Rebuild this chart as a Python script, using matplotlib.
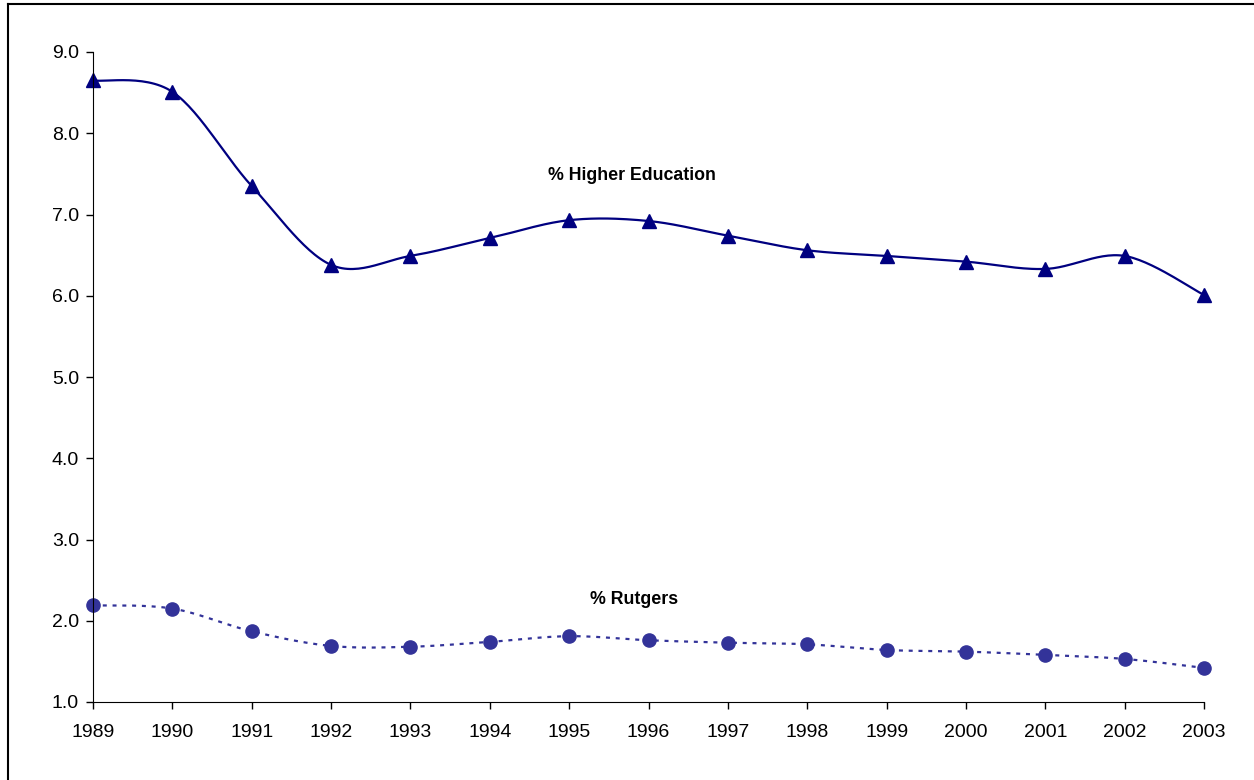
import numpy as np
import matplotlib.pyplot as plt
from matplotlib.lines import Line2D

plt.rcParams['font.family'] = ['Liberation Sans', 'DejaVu Sans']

years = list(range(1989, 2004))
higher_ed = [8.65, 8.51, 7.35, 6.38, 6.49, 6.71, 6.93, 6.92, 6.74, 6.56, 6.49, 6.42, 6.33, 6.49, 6.01]
rutgers = [2.19, 2.15, 1.87, 1.69, 1.68, 1.74, 1.81, 1.76, 1.73, 1.71, 1.64, 1.62, 1.58, 1.53, 1.42]


def smooth(x, y, n=30):
    # excel-style smoothed line (catmull-rom bezier)
    x = np.asarray(x, float)
    y = np.asarray(y, float)
    px = np.concatenate([[x[0]], x, [x[-1]]])
    py = np.concatenate([[y[0]], y, [y[-1]]])
    t = np.linspace(0, 1, n)
    xs, ys = [], []
    for i in range(1, len(px) - 2):
        x0, x1, x2, x3 = px[i - 1], px[i], px[i + 1], px[i + 2]
        y0, y1, y2, y3 = py[i - 1], py[i], py[i + 1], py[i + 2]
        cx1, cy1 = x1 + (x2 - x0) / 6, y1 + (y2 - y0) / 6
        cx2, cy2 = x2 - (x3 - x1) / 6, y2 - (y3 - y1) / 6
        bx = (1 - t) ** 3 * x1 + 3 * (1 - t) ** 2 * t * cx1 + 3 * (1 - t) * t ** 2 * cx2 + t ** 3 * x2
        by = (1 - t) ** 3 * y1 + 3 * (1 - t) ** 2 * t * cy1 + 3 * (1 - t) * t ** 2 * cy2 + t ** 3 * y2
        xs.extend(bx)
        ys.extend(by)
    return np.array(xs), np.array(ys)


fig = plt.figure(figsize=(12.54, 7.8), dpi=100)
ax = fig.add_axes([93 / 1254, 1 - 702 / 780, (1204 - 93) / 1254, (702 - 52) / 780])

sx, sy = smooth(years, higher_ed)
ax.plot(sx, sy, color='#000080', lw=1.6, clip_on=False)
ax.plot(years, higher_ed, ls='none', marker='^', ms=10, color='#000080', clip_on=False)

sx, sy = smooth(years, rutgers)
ax.plot(sx, sy, color='#333399', lw=1.6, ls=(0, (1.8, 2.6)), clip_on=False)
ax.plot(years, rutgers, ls='none', marker='o', ms=9.5, color='#333399', clip_on=False)

ax.text(1995.79, 7.475, '% Higher Education', fontsize=12.8, fontweight='bold', ha='center', va='center')
ax.text(1995.82, 2.26, '% Rutgers', fontsize=12.8, fontweight='bold', ha='center', va='center')

ax.set_xlim(1989, 2003)
ax.set_ylim(1.0, 9.0)
ax.set_xticks(years)
ax.set_yticks(np.arange(1, 10, 1.0))
ax.set_yticklabels(['%.1f' % v for v in np.arange(1, 10, 1.0)])
ax.spines['top'].set_visible(False)
ax.spines['right'].set_visible(False)
ax.tick_params(labelsize=14, length=5, width=1, direction='out')
ax.tick_params(axis='x', pad=11)
ax.tick_params(axis='y', pad=5)

# frame around the chart area (top and left edges visible)
fig.add_artist(Line2D([8 / 1254, 8 / 1254], [0, 1 - 4 / 780], transform=fig.transFigure, color='black', lw=1.5))
fig.add_artist(Line2D([8 / 1254, 1], [1 - 4 / 780, 1 - 4 / 780], transform=fig.transFigure, color='black', lw=1.5))

fig.savefig('out.png', dpi=100)
